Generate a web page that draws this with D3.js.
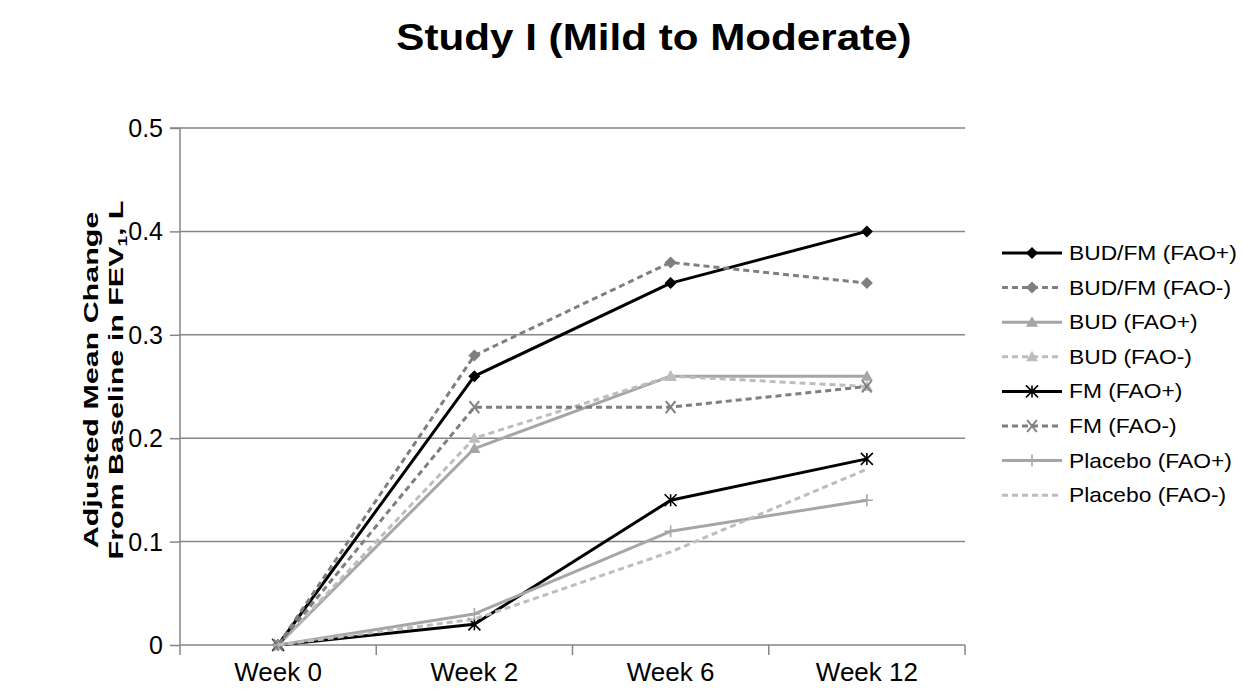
<!DOCTYPE html>
<html>
<head>
<meta charset="utf-8">
<script src="https://cdn.jsdelivr.net/npm/d3@7"></script>
<style>
  body { margin: 0; background: #fff; }
  svg { display: block; }
  text { font-family: "Liberation Sans", Arial, sans-serif; fill: #000; }
</style>
</head>
<body>
<script>
// Visits on the x axis and y-axis tick values
const weeks = ["Week 0", "Week 2", "Week 6", "Week 12"];
const yTicks = [0, 0.1, 0.2, 0.3, 0.4, 0.5];

// Adjusted mean change from baseline in FEV1 (L), one array per treatment group
const budFmPos   = [0, 0.26, 0.35, 0.40];
const budFmNeg   = [0, 0.28, 0.37, 0.35];
const budPos     = [0, 0.19, 0.26, 0.26];
const budNeg     = [0, 0.20, 0.26, 0.25];
const fmPos      = [0, 0.02, 0.14, 0.18];
const fmNeg      = [0, 0.23, 0.23, 0.25];
const placeboPos = [0, 0.03, 0.11, 0.14];
const placeboNeg = [0, 0.025, 0.09, 0.17];

const seriesNames = [
  "BUD/FM (FAO+)", "BUD/FM (FAO-)", "BUD (FAO+)", "BUD (FAO-)",
  "FM (FAO+)", "FM (FAO-)", "Placebo (FAO+)", "Placebo (FAO-)"
];
const seriesValues = [budFmPos, budFmNeg, budPos, budNeg, fmPos, fmNeg, placeboPos, placeboNeg];

// Line look for each group
const styles = [
  { color: "#000000", dash: null,  marker: "diamond"  },
  { color: "#7f7f7f", dash: "6,4", marker: "diamond"  },
  { color: "#a6a6a6", dash: null,  marker: "triangle" },
  { color: "#bdbdbd", dash: "6,4", marker: "triangle" },
  { color: "#000000", dash: null,  marker: "star"     },
  { color: "#7f7f7f", dash: "6,4", marker: "cross"    },
  { color: "#a6a6a6", dash: null,  marker: "plus"     },
  { color: "#bdbdbd", dash: "6,4", marker: "none"     }
];

const W = 1242, H = 700;
const svg = d3.select("body").append("svg").attr("width", W).attr("height", H);

const plot = { left: 180, right: 965, top: 128, bottom: 645 };
const x = d3.scaleBand().domain(weeks).range([plot.left, plot.right]);
const y = d3.scaleLinear().domain([0, 0.5]).range([plot.bottom, plot.top]);
const cx = w => x(w) + x.bandwidth() / 2;

// Text helper with optional horizontal widening
function label(g, str, px, py, opts) {
  return g.append("text")
    .attr("transform", `translate(${px},${py}) scale(${opts.sx || 1},1)`)
    .attr("font-size", opts.size)
    .attr("font-weight", opts.bold ? "bold" : "normal")
    .attr("text-anchor", opts.anchor || "start")
    .text(str);
}

// Gridlines
svg.append("g").selectAll("line").data(yTicks.filter(d => d > 0)).join("line")
  .attr("x1", plot.left).attr("x2", plot.right)
  .attr("y1", d => y(d)).attr("y2", d => y(d))
  .attr("stroke", "#868686").attr("stroke-width", 1.5);

// Y axis with outside ticks
const yAxis = svg.append("g")
  .attr("transform", `translate(${plot.left},0)`)
  .call(d3.axisLeft(y).tickValues(yTicks).tickSize(10));
yAxis.select(".domain").attr("stroke", "#868686").attr("stroke-width", 1.5)
  .attr("d", `M-10,${plot.top}H0V${plot.bottom}`);
yAxis.selectAll(".tick line").attr("stroke", "#868686").attr("stroke-width", 1.5);
yAxis.selectAll(".tick text").remove();
const yl = svg.append("g");
yTicks.forEach(v => {
  label(yl, v === 0 ? "0" : d3.format(".1f")(v), 163, y(v) + 9, { size: 25, anchor: "end" });
});

// X axis line with ticks at category boundaries
const xg = svg.append("g");
xg.append("line").attr("x1", plot.left).attr("x2", plot.right)
  .attr("y1", plot.bottom).attr("y2", plot.bottom)
  .attr("stroke", "#868686").attr("stroke-width", 1.5);
const bounds = weeks.map(w => x(w)).concat([plot.right]);
xg.selectAll("line.tk").data(bounds).join("line").attr("class", "tk")
  .attr("x1", d => d).attr("x2", d => d)
  .attr("y1", plot.bottom).attr("y2", plot.bottom + 10)
  .attr("stroke", "#868686").attr("stroke-width", 1.5);
weeks.forEach(w => label(xg, w, cx(w), 681, { size: 26, anchor: "middle" }));

// Title
label(svg, "Study I (Mild to Moderate)", 654, 50, { size: 37, bold: true, sx: 1.14, anchor: "middle" });

// Y-axis title (two lines, rotated, widened along the text)
const yt = svg.append("g").attr("transform", "translate(98,380) rotate(-90) scale(1.45,1)");
yt.append("text").attr("x", 0).attr("y", 0).attr("text-anchor", "middle")
  .attr("font-size", 21).attr("font-weight", "bold")
  .text("Adjusted Mean Change");
const t2 = yt.append("text").attr("x", 0).attr("y", 25).attr("text-anchor", "middle")
  .attr("font-size", 21).attr("font-weight", "bold");
t2.append("tspan").text("From Baseline in FEV");
t2.append("tspan").attr("font-size", 13).attr("dy", 4).text("1");
t2.append("tspan").attr("dy", -4).text(", L");

// Marker drawing
function drawMarker(g, kind, color) {
  const r = 6;
  if (kind === "diamond") {
    g.append("path").attr("d", `M0,${-r}L${r},0L0,${r}L${-r},0Z`).attr("fill", color);
  } else if (kind === "triangle") {
    g.append("path").attr("d", `M0,${-r}L${r},${r * 0.75}L${-r},${r * 0.75}Z`).attr("fill", color);
  } else if (kind === "star") {
    g.append("path").attr("d", `M0,${-r}V${r}M${-r},${-r}L${r},${r}M${r},${-r}L${-r},${r}`)
      .attr("stroke", color).attr("stroke-width", 1.6).attr("fill", "none");
  } else if (kind === "cross") {
    g.append("path").attr("d", `M${-r * 0.8},${-r}L${r * 0.8},${r}M${r * 0.8},${-r}L${-r * 0.8},${r}`)
      .attr("stroke", color).attr("stroke-width", 2).attr("fill", "none");
  } else if (kind === "plus") {
    g.append("path").attr("d", `M0,${-r}V${r}M${-r},0H${r}`)
      .attr("stroke", color).attr("stroke-width", 1.6).attr("fill", "none");
  }
}

// Series lines and markers
const line = d3.line().x((d, i) => cx(weeks[i])).y(d => y(d));
const sg = svg.append("g");
seriesValues.forEach((vals, k) => {
  const st = styles[k];
  sg.append("path").datum(vals).attr("d", line)
    .attr("fill", "none").attr("stroke", st.color).attr("stroke-width", 3)
    .attr("stroke-dasharray", st.dash).attr("stroke-linejoin", "round");
  vals.forEach((v, i) => {
    const mg = sg.append("g").attr("transform", `translate(${cx(weeks[i])},${y(v)})`);
    drawMarker(mg, st.marker, st.color);
  });
});

// Legend
const lg = svg.append("g");
seriesNames.forEach((name, k) => {
  const st = styles[k];
  const ly = 253 + k * 34.6;
  lg.append("line").attr("x1", 1002).attr("x2", 1062).attr("y1", ly).attr("y2", ly)
    .attr("stroke", st.color).attr("stroke-width", 3).attr("stroke-dasharray", st.dash);
  const mg = lg.append("g").attr("transform", `translate(1032,${ly})`);
  drawMarker(mg, st.marker, st.color);
  label(lg, name, 1069, ly + 7, { size: 20, sx: 1.14 });
});
</script>
</body>
</html>
